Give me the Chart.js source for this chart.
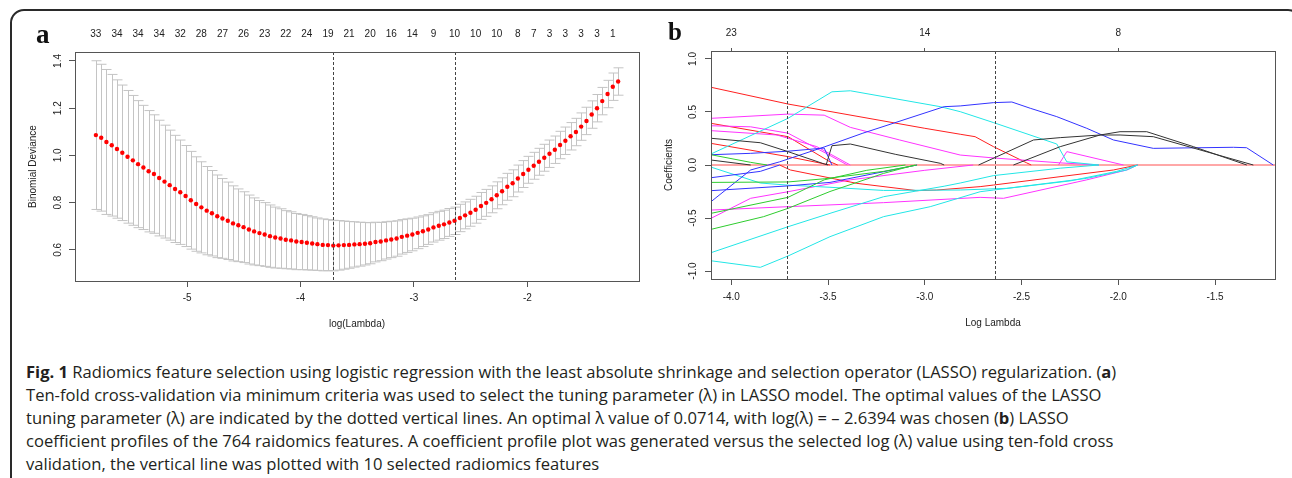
<!DOCTYPE html>
<html>
<head>
<meta charset="utf-8">
<script src="https://cdn.jsdelivr.net/npm/chart.js@4.4.1/dist/chart.umd.min.js"></script>
<style>
    body { margin: 0; background: #fff; width: 1292px; height: 478px; overflow: hidden; position: relative; }
    #frame { position: absolute; left: 10px; top: 9px; width: 1292px; height: 500px; border: 2px solid #2a2a2a; border-radius: 14px; box-sizing: border-box; }
    .panel { position: absolute; }
    #panelA { left: 12px; top: 12px; }
    #panelB { left: 652px; top: 12px; }
    .letter { position: absolute; font-family: "Liberation Serif", serif; font-weight: bold; color: #111; }
    #caption { position: absolute; left: 26px; top: 360px; font-family: "Open Sans", sans-serif; font-size: 15.8px; line-height: 23px; color: #231f20; white-space: nowrap; }
    #caption span { display: inline-block; }
</style>
</head>
<body>
<div id="frame"></div>
<canvas id="panelA" class="panel" width="640" height="325"></canvas>
<canvas id="panelB" class="panel" width="636" height="325"></canvas>
<div class="letter" style="left:36px;top:19px;font-size:27px;">a</div>
<div class="letter" style="left:668px;top:18px;font-size:25px;">b</div>
<div id="caption">
    <div><span id="capFirst"><b>Fig. 1</b> Radiomics feature selection using logistic regression with the least absolute shrinkage and selection operator (LASSO) regularization. (<b>a</b>)</span></div>
    <div>Ten-fold cross-validation via minimum criteria was used to select the tuning parameter (λ) in LASSO model. The optimal values of the LASSO</div>
    <div>tuning parameter (λ) are indicated by the dotted vertical lines. An optimal λ value of 0.0714, with log(λ) = – 2.6394 was chosen (<b>b</b>) LASSO</div>
    <div>coefficient profiles of the 764 raidomics features. A coefficient profile plot was generated versus the selected log (λ) value using ten-fold cross</div>
    <div>validation, the vertical line was plotted with 10 selected radiomics features</div>
</div>
<script>
// ---------- panel a: cross-validation curve ----------
const logLambda = [
    -5.804, -5.757, -5.711, -5.664, -5.618, -5.571, -5.525, -5.478, -5.432, -5.385,
    -5.339, -5.292, -5.246, -5.199, -5.153, -5.106, -5.060, -5.013, -4.967, -4.920,
    -4.874, -4.827, -4.781, -4.734, -4.688, -4.641, -4.595, -4.548, -4.502, -4.455,
    -4.409, -4.362, -4.316, -4.269, -4.223, -4.176, -4.130, -4.083, -4.037, -3.990,
    -3.944, -3.897, -3.851, -3.804, -3.758, -3.711, -3.665, -3.618, -3.572, -3.525,
    -3.479, -3.432, -3.386, -3.339, -3.293, -3.246, -3.200, -3.153, -3.107, -3.060,
    -3.014, -2.967, -2.921, -2.874, -2.828, -2.781, -2.735, -2.688, -2.642, -2.595,
    -2.549, -2.502, -2.456, -2.409, -2.363, -2.316, -2.270, -2.223, -2.177, -2.130,
    -2.084, -2.037, -1.991, -1.944, -1.898, -1.851, -1.805, -1.758, -1.712, -1.665,
    -1.619, -1.572, -1.526, -1.479, -1.433, -1.386, -1.340, -1.293, -1.247, -1.200
];
const cvMean = [
    1.086, 1.075, 1.057, 1.043, 1.027, 1.011, 0.994, 0.979, 0.963, 0.949,
    0.933, 0.921, 0.904, 0.889, 0.874, 0.858, 0.844, 0.828, 0.810, 0.794,
    0.780, 0.766, 0.755, 0.742, 0.733, 0.723, 0.712, 0.704, 0.696, 0.686,
    0.678, 0.671, 0.665, 0.658, 0.652, 0.648, 0.643, 0.640, 0.635, 0.633,
    0.630, 0.627, 0.624, 0.621, 0.620, 0.618, 0.619, 0.620, 0.621, 0.623,
    0.624, 0.626, 0.628, 0.633, 0.635, 0.640, 0.644, 0.648, 0.655, 0.660,
    0.665, 0.672, 0.679, 0.686, 0.695, 0.702, 0.708, 0.716, 0.723, 0.735,
    0.746, 0.757, 0.770, 0.786, 0.799, 0.814, 0.831, 0.848, 0.867, 0.882,
    0.902, 0.921, 0.939, 0.956, 0.973, 0.990, 1.007, 1.024, 1.044, 1.062,
    1.081, 1.099, 1.122, 1.146, 1.173, 1.200, 1.230, 1.260, 1.291, 1.313
];
const cvSE = [
    0.315, 0.311, 0.307, 0.300, 0.293, 0.287, 0.281, 0.275, 0.269, 0.263,
    0.257, 0.251, 0.245, 0.239, 0.233, 0.227, 0.221, 0.214, 0.207, 0.200,
    0.193, 0.187, 0.181, 0.175, 0.169, 0.164, 0.159, 0.154, 0.150, 0.146,
    0.142, 0.138, 0.135, 0.132, 0.129, 0.126, 0.123, 0.121, 0.119, 0.117,
    0.115, 0.113, 0.111, 0.110, 0.108, 0.107, 0.105, 0.102, 0.099, 0.096,
    0.093, 0.090, 0.087, 0.084, 0.081, 0.079, 0.077, 0.075, 0.073, 0.071,
    0.069, 0.067, 0.065, 0.063, 0.062, 0.061, 0.060, 0.059, 0.058, 0.058,
    0.057, 0.057, 0.057, 0.057, 0.057, 0.057, 0.057, 0.057, 0.057, 0.057,
    0.057, 0.057, 0.057, 0.057, 0.057, 0.057, 0.058, 0.058, 0.058, 0.058,
    0.058, 0.058, 0.058, 0.058, 0.058, 0.058, 0.058, 0.058, 0.058, 0.058
];
// number of non-zero coefficients printed along the top
const nzeroIdx = [0, 4, 8, 12, 16, 20, 24, 28, 32, 36, 40, 44, 48, 52, 56, 60, 64, 68, 72, 76, 80, 83, 86, 89, 92, 95, 98];
const nzeroLabels = ['33', '34', '34', '34', '32', '28', '27', '26', '23', '22', '24', '19', '21', '20', '16', '14', '9', '10', '10', '10', '8', '7', '3', '3', '3', '3', '1'];
const aXTicks = [-5, -4, -3, -2];
const aYTicks = [0.6, 0.8, 1.0, 1.2, 1.4];

// lambda.min and lambda.1se (log scale)
const selectedLambdas = [-3.711, -2.639];

// ---------- panel b: coefficient paths [logLambda, coef] ----------
const pathRed1 = [[-4.105, 0.733], [-3.707, 0.575], [-3.0, 0.346], [-2.817, 0.29], [-2.74, 0.267], [-2.645, 0.173], [-2.473, 0.02], [-2.45, 0]];
const pathCyan1 = [[-4.105, 0.104], [-3.707, 0.44], [-3.48, 0.69], [-3.385, 0.70], [-2.92, 0.55], [-2.817, 0.503], [-2.645, 0.40], [-2.318, 0.198], [-2.266, 0.03], [-2.10, 0]];
const pathMagenta1 = [[-4.105, 0.44], [-3.707, 0.48], [-3.52, 0.47], [-3.385, 0.355], [-3.13, 0.236], [-2.817, 0.094], [-2.64, 0.066], [-2.3, 0.02], [-2.1, 0]];
const pathRed2 = [[-4.105, 0.393], [-3.707, 0.267], [-3.49, 0.03], [-3.45, 0]];
const pathMagenta2 = [[-4.105, 0.37], [-3.9, 0.36], [-3.707, 0.30], [-3.5, 0.10], [-3.40, 0]];
const pathMagenta3 = [[-4.105, 0.324], [-3.764, 0.283], [-3.558, 0.173], [-3.385, 0]];
const pathBlack1 = [[-4.105, 0.252], [-3.85, 0.21], [-3.707, 0.126], [-3.52, 0.01], [-3.5, 0]];
const pathRed3 = [[-4.105, 0.204], [-3.707, 0.079], [-3.49, 0]];
const pathBlue2 = [[-4.105, 0.097], [-3.9, 0.11], [-3.707, 0.13], [-3.52, 0.16], [-3.48, 0]];
const pathGreen1 = [[-4.105, 0.097], [-3.90, 0.025], [-3.815, 0]];
const pathBlack2 = [[-4.105, 0.047], [-3.90, 0]];
const pathBlack3 = [[-3.51, 0], [-3.48, 0.182], [-3.385, 0.198], [-3.15, 0.10], [-2.92, 0.016], [-2.9, 0]];
const pathBlack4 = [[-2.722, 0], [-2.438, 0.236], [-2.30, 0.258], [-2.094, 0.283], [-1.991, 0.314], [-1.853, 0.314], [-1.612, 0.173], [-1.336, 0]];
const pathBlack5 = [[-2.542, 0], [-2.30, 0.173], [-2.094, 0.283], [-1.991, 0.283], [-1.819, 0.267], [-1.302, 0]];
const pathMagenta4 = [[-2.309, 0], [-2.266, 0.126], [-1.973, 0]];
const pathBlue1 = [[-4.105, -0.346], [-3.90, -0.047], [-3.75, 0.03], [-3.52, 0.17], [-3.32, 0.30], [-2.90, 0.55], [-2.817, 0.557], [-2.645, 0.588], [-2.55, 0.594], [-2.455, 0.535], [-2.318, 0.456], [-2.163, 0.346], [-2.025, 0.236], [-1.819, 0.157], [-1.405, 0.167], [-1.337, 0.163], [-1.199, 0]];
const pathBlue3 = [[-4.105, -0.12], [-3.85, -0.06], [-3.75, 0]];
const pathBlue4 = [[-4.105, -0.242], [-3.707, -0.197], [-3.49, -0.164], [-3.04, 0]];
const pathCyan4 = [[-4.105, -0.02], [-3.85, -0.17], [-3.707, -0.19], [-3.49, -0.21], [-3.213, -0.24], [-2.817, -0.236], [-2.576, -0.22], [-2.163, -0.126], [-1.956, -0.047], [-1.9, 0]];
const pathRed4 = [[-3.75, 0], [-3.695, -0.047], [-3.351, -0.173], [-3.041, -0.242], [-2.938, -0.236], [-2.714, -0.204], [-2.645, -0.189], [-2.025, -0.047], [-1.9, 0]];
const pathGreen3 = [[-4.105, -0.164], [-3.707, -0.16], [-3.52, -0.13], [-3.213, -0.06], [-3.04, 0]];
const pathGreen4 = [[-4.105, -0.456], [-3.707, -0.305], [-3.52, -0.14], [-3.3, -0.05], [-3.1, 0]];
const pathGreen5 = [[-4.105, -0.607], [-3.833, -0.487], [-3.707, -0.409], [-3.49, -0.25], [-3.213, -0.079], [-3.05, 0]];
const pathMagenta5 = [[-4.105, -0.503], [-3.90, -0.314], [-3.707, -0.252], [-3.385, -0.14], [-3.0, -0.05], [-2.75, 0]];
const pathMagenta6 = [[-4.105, -0.425], [-3.707, -0.393], [-3.213, -0.355], [-2.714, -0.305], [-2.593, -0.314], [-2.163, -0.14], [-1.956, -0.047], [-1.9, 0]];
const pathCyan2 = [[-4.105, -0.903], [-3.85, -0.965], [-3.707, -0.858], [-3.49, -0.676], [-3.213, -0.487], [-2.972, -0.393], [-2.714, -0.252], [-2.645, -0.236], [-2.249, -0.15], [-2.008, -0.06], [-1.9, 0]];
const pathCyan3 = [[-4.105, -0.827], [-3.707, -0.582], [-3.49, -0.456], [-3.213, -0.299], [-2.90, -0.2], [-2.817, -0.17], [-2.645, -0.10], [-2.3, -0.03], [-2.1, 0]];
const pathZero = [[-4.105, 0], [-1.19, 0]];

const coefPaths = [
    pathBlack1, pathBlack2, pathBlack3, pathBlack4, pathBlack5,
    pathGreen1, pathGreen3, pathGreen4, pathGreen5,
    pathBlue1, pathBlue2, pathBlue3, pathBlue4,
    pathCyan1, pathCyan2, pathCyan3, pathCyan4,
    pathMagenta1, pathMagenta2, pathMagenta3, pathMagenta4, pathMagenta5, pathMagenta6,
    pathRed1, pathRed2, pathRed3, pathRed4, pathZero
];
const BLACK = '#333', GREEN = '#2ecc2e', BLUE = '#3333ff', CYAN = '#22e6e6', MAGENTA = '#ff33ff', RED = '#ff2020';
const pathColors = [
    BLACK, BLACK, BLACK, BLACK, BLACK,
    GREEN, GREEN, GREEN, GREEN,
    BLUE, BLUE, BLUE, BLUE,
    CYAN, CYAN, CYAN, CYAN,
    MAGENTA, MAGENTA, MAGENTA, MAGENTA, MAGENTA, MAGENTA,
    RED, RED, RED, RED, '#ff5050'
];
const dfAt = [-4, -3, -2];
const dfLabels = ['23', '14', '8'];
const bXTicks = [-4, -3.5, -3, -2.5, -2, -1.5];
const bYTicks = [-1, -0.5, 0, 0.5, 1];

// size the caption so that its first line ends where the original one does
const capFirst = document.getElementById('capFirst');
const capEl = document.getElementById('caption');
capEl.style.fontSize = (15.8 * 1090 / capFirst.getBoundingClientRect().width).toFixed(2) + 'px';

Chart.defaults.font.family = '"Liberation Sans", Arial, sans-serif';
Chart.defaults.font.size = 10;
Chart.defaults.color = '#222';

const AXIS_COLOR = '#555';

// fixed axis sizes so the plotting regions sit where they should
function fixSize(size) {
    return (scale) => {
        if (scale.isHorizontal()) scale.height = size; else scale.width = size;
        scale.paddingLeft = scale.paddingRight = scale.paddingTop = scale.paddingBottom = 0;
    };
}
function fixedTicks(values) {
    return (scale) => { scale.ticks = values.map(v => ({ value: v })); };
}

const plotBox = {
    id: 'plotBox',
    afterDraw(chart) {
        const { ctx, chartArea: a } = chart;
        ctx.save();
        ctx.strokeStyle = AXIS_COLOR;
        ctx.lineWidth = 1;
        ctx.strokeRect(Math.round(a.left) + 0.5, Math.round(a.top) + 0.5, Math.round(a.right - a.left), Math.round(a.bottom - a.top));
        ctx.restore();
    }
};

const lambdaLines = {
    id: 'lambdaLines',
    afterDatasetsDraw(chart) {
        const { ctx, chartArea: a, scales: { x } } = chart;
        ctx.save();
        ctx.strokeStyle = '#444';
        ctx.lineWidth = 1;
        ctx.setLineDash([3, 2]);
        selectedLambdas.forEach(v => {
            const px = Math.round(x.getPixelForValue(v)) + 0.5;
            ctx.beginPath();
            ctx.moveTo(px, a.top);
            ctx.lineTo(px, a.bottom);
            ctx.stroke();
        });
        ctx.restore();
    }
};

const errorBars = {
    id: 'errorBars',
    beforeDatasetsDraw(chart) {
        const { ctx, scales: { x, y } } = chart;
        const capHalf = 5;
        ctx.save();
        ctx.strokeStyle = '#c4c4c4';
        ctx.lineWidth = 1;
        logLambda.forEach((v, i) => {
            const px = Math.round(x.getPixelForValue(v)) + 0.5;
            const yu = y.getPixelForValue(cvMean[i] + cvSE[i]);
            const yl = y.getPixelForValue(cvMean[i] - cvSE[i]);
            ctx.beginPath();
            ctx.moveTo(px, yu); ctx.lineTo(px, yl);
            ctx.moveTo(px - capHalf, yu); ctx.lineTo(px + capHalf, yu);
            ctx.moveTo(px - capHalf, yl); ctx.lineTo(px + capHalf, yl);
            ctx.stroke();
        });
        ctx.restore();
    }
};

function axisGrid(tickLength, drawTicks = true) {
    return { drawOnChartArea: false, drawTicks, tickLength, color: AXIS_COLOR };
}

// ---------- draw panel a ----------
new Chart(document.getElementById('panelA'), {
    type: 'scatter',
    data: {
        datasets: [{
            data: logLambda.map((v, i) => ({ x: v, y: cvMean[i] })),
            backgroundColor: '#ff0000',
            borderWidth: 0,
            pointRadius: 2.2
        }]
    },
    options: {
        responsive: false,
        devicePixelRatio: 1,
        animation: false,
        events: [],
        layout: { padding: { left: 0, right: 13, top: 0, bottom: 0 }, autoPadding: false },
        plugins: { legend: { display: false }, tooltip: { enabled: false } },
        scales: {
            x: {
                type: 'linear', position: 'bottom', min: -5.988, max: -1.016,
                afterBuildTicks: fixedTicks(aXTicks), afterFit: fixSize(56),
                grid: axisGrid(6), border: { display: false },
                ticks: { padding: 5, maxRotation: 0, autoSkip: false },
                title: { display: true, text: 'log(Lambda)', padding: { top: 0, bottom: 7 } }
            },
            x2: {
                type: 'linear', position: 'top', min: -5.988, max: -1.016,
                afterBuildTicks: fixedTicks(nzeroIdx.map(i => logLambda[i])), afterFit: fixSize(40),
                grid: axisGrid(0, false), border: { display: false },
                ticks: { padding: 12, maxRotation: 0, autoSkip: false, callback: (v, i) => nzeroLabels[i] }
            },
            y: {
                type: 'linear', position: 'left', min: 0.468, max: 1.438,
                afterBuildTicks: fixedTicks(aYTicks), afterFit: fixSize(63),
                grid: axisGrid(6), border: { display: false },
                ticks: { padding: 4, minRotation: 90, maxRotation: 90, crossAlign: 'center', callback: v => v.toFixed(1) },
                title: { display: true, text: 'Binomial Deviance', padding: { top: 15, bottom: 0 } }
            }
        }
    },
    plugins: [errorBars, lambdaLines, plotBox]
});

// ---------- draw panel b ----------
new Chart(document.getElementById('panelB'), {
    type: 'line',
    data: {
        datasets: coefPaths.map((path, i) => ({
            data: path.map(p => ({ x: p[0], y: p[1] })),
            borderColor: pathColors[i],
            borderWidth: 1,
            pointRadius: 0,
            tension: 0,
            fill: false
        }))
    },
    options: {
        responsive: false,
        devicePixelRatio: 1,
        animation: false,
        events: [],
        layout: { padding: { left: 0, right: 13, top: 0, bottom: 0 }, autoPadding: false },
        plugins: { legend: { display: false }, tooltip: { enabled: false } },
        scales: {
            x: {
                type: 'linear', position: 'bottom', min: -4.105, max: -1.19,
                afterBuildTicks: fixedTicks(bXTicks), afterFit: fixSize(58),
                grid: axisGrid(6), border: { display: false },
                ticks: { padding: 6, maxRotation: 0, autoSkip: false, callback: v => v.toFixed(1) },
                title: { display: true, text: 'Log Lambda', padding: { top: 0, bottom: 8 } }
            },
            x2: {
                type: 'linear', position: 'top', min: -4.105, max: -1.19,
                afterBuildTicks: fixedTicks(dfAt), afterFit: fixSize(39),
                grid: axisGrid(3), border: { display: false },
                ticks: { padding: 9, maxRotation: 0, autoSkip: false, callback: (v, i) => dfLabels[i] }
            },
            y: {
                type: 'linear', position: 'left', min: -1.075, max: 1.075,
                afterBuildTicks: fixedTicks(bYTicks), afterFit: fixSize(59),
                grid: axisGrid(6), border: { display: false },
                ticks: { padding: 3, minRotation: 90, maxRotation: 90, crossAlign: 'center', callback: v => v.toFixed(1) },
                title: { display: true, text: 'Coefficients', padding: { top: 11, bottom: 0 } }
            }
        }
    },
    plugins: [lambdaLines, plotBox]
});
</script>
</body>
</html>
